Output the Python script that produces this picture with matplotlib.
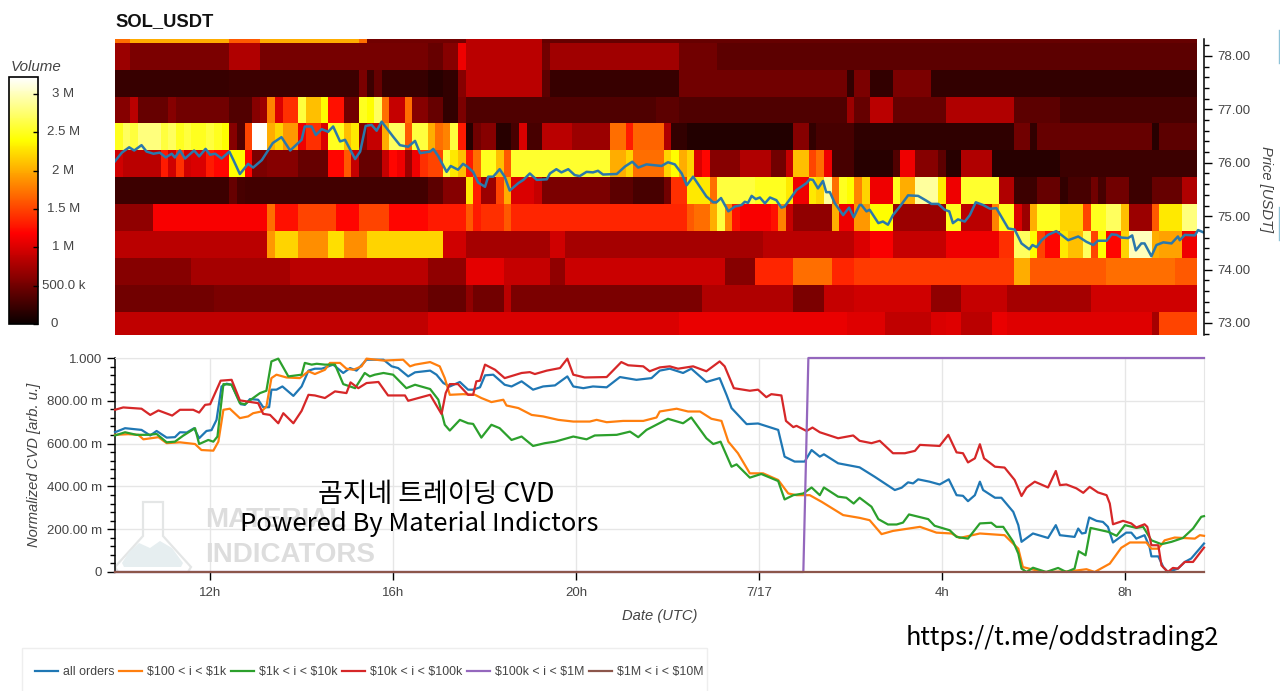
import numpy as np
import matplotlib
matplotlib.use("Agg")
import matplotlib.pyplot as plt
import matplotlib.transforms as mtransforms
from matplotlib.lines import Line2D
from matplotlib.patches import Polygon, Rectangle
from matplotlib.ticker import FixedLocator, MultipleLocator

WIDTH, HEIGHT = 1280, 691
SANS = ["Liberation Sans", "DejaVu Sans"]
plt.rcParams["font.family"] = SANS

TITLE = "SOL_USDT"

# ---- order-book volume per price band, in millions, as (ten-minute bars, volume) runs
band_7825 = [(2,1.7),(13,2.0),(4,1.6),(13,2.0),(1,1.7),(13,.5),(10,.85),(86,.45)]
band_7775 = [(2,.7),(13,.55),(4,.8),(22,.52),(2,.45),(2,.6),(1,1.1),(10,.85),(1,.5),(17,.72),(5,.5),(63,.4)]
band_7724 = [(15,.22),(17,.25),(1,.55),(1,.25),(1,.45),(6,.22),(2,.15),(2,.2),(1,.6),(10,.85),(1,.4),(17,.22),
             (22,.5),(1,.2),(2,.55),(3,.2),(5,.55),(35,.2)]
band_7674 = [(2,.6),(1,.85),(4,.45),(1,.6),(7,.5),(3,.35),(1,.6),(1,.7),(1,1.8),(1,1.0),(2,1.4),(1,2.6),(2,2.1),
             (1,2.4),(2,1.25),(2,.5),(1,2.5),(1,2.4),(1,2.7),(1,1.7),(2,.9),(1,1.7),(2,.6),(2,.45),(2,.2),(1,.55),
             (25,.33),(3,.4),(22,.33),(1,.7),(2,.45),(3,.85),(7,.45),(9,.8),(6,.4),(18,.3)]
band_7624 = [(1,2.5),(1,2.7),(1,2.6),(3,2.8),(1,2.6),(1,2.7),(1,2.5),(1,2.6),(2,2.5),(1,2.6),(1,2.5),(1,2.4),
             (1,.6),(1,.35),(1,1.5),(2,3.2),(1,2.0),(1,2.2),(2,1.9),(1,1.1),(2,1.4),(1,1.0),(2,2.5),(1,2.1),(1,2.3),
             (1,.6),(2,.9),(1,2.0),(2,2.7),(1,1.6),(2,2.6),(1,2.0),(1,1.7),(1,1.8),(1,2.6),(1,1.3),(1,.15),(1,.5),
             (2,.6),(2,.15),(1,.3),(1,1.0),(2,.3),(4,.85),(5,.7),(2,1.7),(1,1.3),(4,1.65),(1,.8),(2,.2),(14,.12),
             (2,.6),(1,.2),(5,.3),(21,.18),(2,.5),(1,.2),(15,.45),(1,.15),(5,.4)]
band_7573 = [(1,.95),(5,.85),(1,1.3),(1,.95),(1,1.4),(1,.95),(2,1.0),(1,1.3),(2,1.2),(2,2.4),(1,1.2),(2,.55),(4,.6),
             (4,.45),(2,1.2),(1,1.6),(1,.9),(3,.45),(1,.9),(1,1.2),(1,1.1),(1,.7),(1,1.1),(1,1.4),(2,1.5),(1,2.6),
             (1,2.3),(1,2.1),(1,1.3),(1,1.7),(2,2.5),(1,2.1),(1,1.6),(13,2.55),(2,2.0),(1,2.2),(4,1.7),(1,2.2),(1,2.4),
             (1,2.0),(1,2.2),(1,1.0),(1,1.2),(4,.6),(4,.8),(2,.5),(1,.9),(2,2.1),(1,1.5),(1,1.7),(1,1.1),(3,.3),(5,.15),
             (1,.35),(2,1.1),(3,.6),(1,.4),(2,.15),(4,.8),(9,.15),(18,.25)]
band_7523 = [(15,.25),(1,.45),(1,.3),(24,.27),(2,.4),(3,.6),(1,2.3),(1,1.3),(2,.7),(1,1.5),(1,2.0),(1,1.0),(2,1.0),
             (1,.9),(9,.55),(3,.4),(4,.3),(1,.5),(2,1.4),(3,2.3),(1,1.7),(5,2.6),(4,2.5),(1,2.3),(2,1.1),(1,2.3),(1,2.2),
             (1,2.9),(1,1.7),(1,2.5),(1,2.4),(1,1.8),(1,2.2),(3,1.1),(1,2.5),(2,2.0),(3,2.9),(1,2.3),(2,1.1),(5,2.55),
             (2,.8),(3,.25),(3,.45),(1,.2),(3,.3),(1,.5),(1,.3),(3,.5),(3,.25),(4,.45),(2,.8)]
band_7472 = [(5,.65),(15,1.15),(1,1.7),(3,1.25),(5,1.5),(3,1.2),(4,1.5),(5,1.2),(5,1.3),(1,1.6),(1,1.3),(3,1.4),(1,1.6),
             (23,1.35),(1,1.6),(2,1.7),(1,2.0),(1,2.6),(1,1.8),(1,1.25),(4,1.15),(1,1.25),(1,1.8),(1,.9),(5,.65),(1,2.0),
             (2,1.1),(2,1.9),(3,2.4),(7,.7),(2,2.5),(4,.85),(1,1.8),(2,2.5),(1,1.0),(1,.7),(1,2.0),(3,2.5),(3,2.2),(1,1.5),
             (2,2.5),(2,2.7),(1,2.1),(3,.7),(1,1.6),(3,2.3),(2,2.8)]
band_7422 = [(20,.85),(1,1.9),(3,2.2),(4,1.85),(2,2.25),(3,1.85),(10,2.2),(3,.95),(11,.75),(2,.95),(26,.75),(12,.85),
             (2,1.0),(3,1.15),(7,.9),(7,1.1),(2,1.4),(2,2.7),(1,2.4),(1,1.5),(2,1.2),(1,2.3),(2,2.1),(1,2.7),(1,1.5),
             (1,2.4),(2,1.2),(1,2.2),(3,3.0),(1,2.0),(3,1.95),(2,1.1)]
band_7372 = [(10,.6),(13,.75),(18,.85),(5,.65),(5,1.05),(6,.9),(2,.65),(21,.92),(4,.6),(5,1.35),(5,1.7),(3,1.35),
             (21,1.45),(2,2.0),(10,1.6),(9,1.7),(3,1.6)]
band_7321 = [(13,.5),(28,.55),(5,.45),(1,.65),(4,.5),(1,.85),(25,.55),(12,.8),(4,.55),(4,.9),(10,.95),(4,.65),(6,.9),
             (11,.75),(14,.95)]
band_7271 = [(41,.87),(33,1.0),(22,1.07),(5,1.03),(6,.88),(2,1.0),(2,1.03),(4,.85),(2,1.07),(4,1.03),(15,1.03),(1,.75),
             (5,1.5)]

band_edges = [72.71, 73.21, 73.72, 74.22, 74.72, 75.23, 75.73, 76.24, 76.74, 77.24, 77.745, 78.25, 78.76]
first_bar_hour = 9.92
bar_hours = 1 / 6

# ---- last traded price: hour (counted from 00:00 on 7/16), USDT
price_hour = [9.92,10.07,10.23,10.34,10.50,10.61,10.76,10.90,11.03,11.16,11.23,11.34,11.45,11.65,11.76,11.90,12.00,
              12.11,12.25,12.42,12.51,12.65,12.83,12.94,13.13,13.37,13.56,13.75,14.00,14.07,14.22,14.31,14.44,14.58,
              14.69,14.84,14.95,15.17,15.28,15.40,15.53,15.64,15.75,16.00,16.15,16.33,16.48,16.59,16.81,
              16.88,16.99,17.17,17.26,17.42,17.53,17.62,17.75,17.86,18.01,18.08,18.19,18.33,18.44,18.55,18.74,18.85,
              18.99,19.14,19.36,19.43,19.57,19.68,19.83,19.97,20.08,20.23,20.37,20.48,20.59,20.89,21.07,21.23,21.36,
              21.54,21.76,21.87,22.01,22.16,22.31,22.42,22.56,22.85,23.00,23.07,23.17,23.33,23.47,23.62,23.69,23.76,
              23.84,23.93,24.02,24.13,24.24,24.38,24.49,24.56,24.82,25.04,25.11,25.18,25.29,25.40,25.47,25.55,25.66,
              25.84,25.97,26.07,26.20,26.24,26.35,26.42,26.61,26.71,26.82,26.93,27.08,27.26,27.48,27.66,27.77,27.92,
              28.06,28.16,28.24,28.35,28.50,28.61,28.74,28.90,29.05,29.19,29.34,29.45,29.59,29.74,29.91,29.98,30.07,
              30.18,30.32,30.50,30.61,30.76,30.98,31.16,31.31,31.41,31.60,31.71,31.82,31.92,32.07,32.16,32.24,32.36,
              32.43,32.58,32.69,32.84,33.02,33.16,33.20,33.31,33.53,33.60,33.71]
price_usdt = [76.03,76.19,76.29,76.23,76.33,76.21,76.17,76.19,76.10,76.17,76.10,76.23,76.08,76.23,76.12,76.26,76.15,
              76.17,76.08,76.21,76.05,75.79,75.98,75.91,76.05,76.37,76.48,76.23,76.43,76.68,76.68,76.52,76.63,76.58,
              76.68,76.40,76.43,76.07,76.21,76.69,76.71,76.60,76.77,76.49,76.33,76.30,76.41,76.18,76.21,
              76.26,76.12,75.83,75.94,75.87,75.98,75.93,75.83,75.63,75.55,75.74,75.74,75.88,75.74,75.48,75.62,75.68,
              75.80,75.68,75.69,75.80,75.88,75.82,75.88,75.77,75.75,75.83,75.82,75.85,75.78,75.79,75.93,76.02,75.91,
              75.97,75.95,75.94,76.01,75.97,75.80,75.58,75.74,75.37,75.26,75.26,75.34,75.09,75.18,75.21,75.27,75.25,
              75.38,75.32,75.35,75.24,75.35,75.30,75.16,75.18,75.49,75.62,75.69,75.68,75.52,75.66,75.45,75.45,75.24,
              75.02,75.16,74.98,75.21,75.21,75.09,75.12,74.87,74.90,74.84,75.02,75.18,75.39,75.38,75.29,75.23,75.23,
              75.12,75.09,74.87,74.94,74.90,75.02,75.26,75.21,75.14,75.15,74.93,74.77,74.75,74.49,74.38,74.46,74.42,
              74.55,74.65,74.72,74.65,74.55,74.62,74.52,74.46,74.54,74.54,74.66,74.65,74.60,74.59,74.64,74.36,74.49,
              74.49,74.25,74.46,74.51,74.49,74.62,74.55,74.65,74.64,74.74,74.70]

# ---- normalized cumulative volume delta by order-size bucket
all_hour = [9.92,10.14,10.50,10.69,10.83,11.05,11.23,11.34,11.49,11.65,11.76,11.92,12.03,12.14,12.25,12.36,12.47,12.67,
            12.76,12.87,13.05,13.16,13.29,13.34,13.45,13.58,13.82,14.00,14.15,14.29,14.44,14.69,14.91,15.06,15.20,15.42,
            15.79,15.97,16.11,16.33,16.48,16.81,16.95,17.10,17.24,17.46,17.64,17.75,17.90,18.01,18.19,18.44,18.59,18.81,
            19.06,19.28,19.54,19.81,19.94,20.16,20.37,20.67,20.96,21.32,21.65,21.83,22.05,22.34,22.52,22.85,23.14,23.29,
            23.40,23.73,23.98,24.42,24.56,24.78,25.00,25.15,25.33,25.42,25.73,26.20,26.53,26.97,27.12,27.26,27.37,27.48,
            27.73,27.95,28.15,28.32,28.46,28.57,28.72,28.83,28.90,29.16,29.30,29.56,29.67,29.74,29.99,30.32,30.49,30.58,
            30.90,30.98,31.06,31.14,31.22,31.38,31.52,31.63,31.74,32.03,32.14,32.25,32.43,32.54,32.58,32.73,32.84,32.94,
            33.16,33.31,33.45,33.73]
all_cvd = [.653,.672,.664,.638,.659,.628,.630,.653,.652,.672,.625,.659,.663,.711,.867,.880,.875,.784,.781,.808,.805,.770,
           .770,.852,.852,.867,.823,.867,.941,.950,.950,.969,.930,.953,.941,.992,.992,.961,.953,.914,.933,.941,.922,.883,
           .867,.888,.852,.852,.863,.919,.922,.875,.867,.891,.852,.867,.872,.914,.867,.859,.867,.863,.911,.898,.906,.941,
           .950,.930,.950,.888,.906,.828,.766,.691,.694,.664,.539,.516,.516,.570,.539,.550,.508,.489,.445,.383,.394,.419,
           .414,.433,.422,.409,.433,.359,.356,.331,.359,.422,.383,.347,.347,.281,.219,.141,.180,.159,.219,.172,.164,.203,
           .180,.183,.255,.239,.234,.211,.138,.184,.184,.156,.172,.117,.073,.073,.023,0,.016,.047,.063,.133]

small_hour = [9.92,10.21,10.43,10.54,10.87,11.05,11.34,11.67,11.81,12.07,12.18,12.29,12.43,12.65,12.83,12.94,13.12,13.23,
              13.34,13.45,13.67,13.96,14.15,14.29,14.51,14.62,14.84,14.98,15.13,15.31,15.42,15.79,16.22,16.37,16.48,16.81,
              17.02,17.13,17.24,17.53,17.79,17.93,18.15,18.41,18.48,18.74,19.03,19.28,19.61,19.94,20.30,20.45,20.67,21.03,
              21.47,21.76,21.83,22.20,22.45,22.71,22.96,23.18,23.33,23.54,23.80,24.09,24.42,24.64,24.82,25.11,25.37,25.84,
              26.20,26.42,26.68,26.93,27.52,27.88,28.21,28.39,28.83,29.37,29.67,29.77,29.96,30.21,30.79,31.16,31.34,31.67,
              31.92,32.11,32.47,32.58,32.73,32.87,33.09,33.53,33.64,33.73]
small_cvd = [.641,.644,.641,.620,.630,.602,.606,.598,.570,.567,.609,.758,.763,.719,.727,.742,.750,.773,.906,.922,.909,.906,
             .938,.925,.945,.977,.977,.950,.945,.961,.997,.988,.992,.961,.969,.981,.961,.906,.828,.831,.828,.813,.794,.805,
             .778,.766,.734,.727,.711,.703,.703,.711,.700,.706,.706,.722,.750,.763,.750,.750,.716,.706,.609,.555,.461,.461,
             .430,.367,.359,.359,.328,.266,.253,.242,.177,.192,.211,.184,.180,.159,.180,.172,.109,.023,.013,0,.003,.013,0,
             .039,.113,.138,.138,.109,.109,.148,.161,.156,.172,.169]

mid_hour = [9.92,10.14,10.39,10.65,10.83,11.05,11.23,11.41,11.67,11.76,11.96,12.07,12.16,12.29,12.47,12.65,12.76,12.94,
            13.09,13.23,13.34,13.49,13.71,14.00,14.07,14.22,14.33,14.51,14.73,14.91,15.17,15.38,15.49,15.60,15.79,16.00,
            16.29,16.48,16.81,16.99,17.13,17.24,17.46,17.64,17.75,17.93,18.15,18.33,18.59,18.81,19.06,19.32,19.54,19.94,
            20.23,20.41,20.89,21.18,21.36,21.54,22.01,22.34,22.52,22.85,23.00,23.16,23.40,23.51,23.80,24.05,24.42,24.56,
            24.75,24.97,25.15,25.33,25.42,25.73,25.91,26.07,26.20,26.46,26.61,26.82,27.01,27.15,27.28,27.70,27.84,28.17,
            28.32,28.57,28.83,29.08,29.19,29.34,29.56,29.67,29.74,29.85,29.99,30.28,30.54,30.72,30.90,30.99,31.14,31.25,
            31.63,31.82,32.00,32.25,32.40,32.58,32.80,33.02,33.27,33.49,33.67,33.73]
mid_cvd = [.638,.653,.641,.641,.645,.606,.609,.637,.672,.598,.617,.609,.633,.878,.875,.789,.784,.813,.836,.847,.984,.997,
           .914,.922,.977,.969,.973,.969,.969,.878,.859,.930,.914,.922,.930,.922,.859,.875,.855,.805,.688,.661,.711,.695,
           .692,.628,.688,.672,.617,.633,.589,.602,.609,.633,.620,.638,.641,.656,.630,.664,.716,.695,.722,.625,.598,.609,
           .492,.503,.441,.458,.425,.339,.359,.367,.395,.359,.395,.352,.347,.320,.347,.305,.247,.222,.222,.231,.269,.247,
           .216,.195,.164,.156,.227,.230,.211,.211,.141,.086,.016,0,.020,0,.019,0,.016,.097,.078,.206,.188,.169,.219,.206,
           .211,.148,.130,.141,.159,.203,.258,.261]

large_hour = [9.92,10.10,10.50,10.69,10.87,11.17,11.34,11.63,11.76,11.89,12.00,12.23,12.47,12.65,13.05,13.16,13.31,13.49,
              13.60,13.82,14.00,14.15,14.29,14.51,14.73,14.98,15.07,15.24,15.42,15.68,15.89,16.26,16.33,16.81,17.06,17.15,
              17.24,17.42,17.64,17.75,17.82,17.90,18.01,18.23,18.44,18.81,18.99,19.10,19.36,19.65,19.81,19.94,20.19,20.67,
              20.99,21.14,21.47,21.61,21.83,22.05,22.23,22.56,22.85,23.14,23.25,23.45,23.80,23.98,24.16,24.27,24.49,24.59,
              24.75,24.82,25.04,25.17,25.33,25.73,26.06,26.20,26.46,26.64,26.93,27.19,27.41,27.52,27.95,28.14,28.32,28.46,
              28.57,28.72,28.83,28.92,29.16,29.37,29.59,29.74,29.85,30.03,30.32,30.49,30.58,30.72,30.94,31.09,31.23,31.41,
              31.60,31.67,31.74,31.96,32.14,32.25,32.43,32.49,32.58,32.73,32.80,32.94,33.05,33.16,33.31,33.49,33.73]
large_cvd = [.758,.769,.763,.734,.755,.731,.758,.758,.745,.781,.784,.894,.898,.802,.789,.739,.734,.695,.742,.695,.753,.828,
             .825,.813,.844,.836,.886,.859,.883,.888,.825,.825,.800,.828,.738,.836,.878,.878,.828,.828,.891,.894,.969,.945,
             .906,.930,.934,.925,.941,.953,.997,.922,.909,.911,.981,.966,.961,.938,.956,.961,.950,.961,.938,.984,.961,.859,
             .847,.852,.817,.831,.825,.706,.677,.683,.659,.675,.653,.625,.638,.613,.602,.613,.555,.555,.566,.594,.589,.641,
             .559,.555,.512,.531,.597,.531,.492,.488,.430,.355,.394,.422,.395,.472,.406,.409,.391,.370,.398,.372,.359,.320,
             .223,.239,.227,.208,.223,.211,.125,.125,.031,0,.019,.016,.047,.047,.114]

whale_hour = [9.92, 24.97, 25.08, 33.73]
whale_cvd = [0, 0, 1.0, 1.0]
mega_hour = [9.92, 33.73]
mega_cvd = [0, 0]

series_labels = ["all orders", r"\$100 < i < \$1k", r"\$1k < i < \$10k", r"\$10k < i < \$100k",
                 r"\$100k < i < \$1M", r"\$1M < i < \$10M"]
series_colors = ["#1f77b4", "#ff7f0e", "#2ca02c", "#d62728", "#9467bd", "#8c564b"]

price_ticks = [73, 74, 75, 76, 77, 78]
volume_ticks = [0, 0.5, 1, 1.5, 2, 2.5, 3]
volume_tick_labels = ["0", "500.0 k", "1 M", "1.5 M", "2 M", "2.5 M", "3 M"]
cvd_ticks = [0, .2, .4, .6, .8, 1.0]
cvd_tick_labels = ["0", "200.00 m", "400.00 m", "600.00 m", "800.00 m", "1.000"]
hour_ticks = [12, 16, 20, 24, 28, 32]
hour_tick_labels = ["12h", "16h", "20h", "7/17", "4h", "8h"]

TICK_GRAY = "#444444"
LABEL_GRAY = "#444444"
TICK_SIZE = 9.5
AXIS_LABEL_SIZE = 10.6


def expand(runs):
    """Turn (bar count, volume) runs into one value per bar."""
    return np.concatenate([np.full(n, v, dtype=float) for n, v in runs])


def axes_from_pixels(fig, left, top, right, bottom):
    return fig.add_axes([left / WIDTH, 1 - bottom / HEIGHT, (right - left) / WIDTH, (bottom - top) / HEIGHT])


fig = plt.figure(figsize=(WIDTH / 100, HEIGHT / 100), dpi=100, facecolor="white")
page = mtransforms.Affine2D().scale(1 / WIDTH, -1 / HEIGHT).translate(0, 1) + fig.transFigure

# ---- heat map with the price line on top
ax_heat = axes_from_pixels(fig, 115, 39, 1204, 335)
bands = [band_7271, band_7321, band_7372, band_7422, band_7472, band_7523, band_7573,
         band_7624, band_7674, band_7724, band_7775, band_7825]
volume = np.array([expand(b) for b in bands])
bar_edges = first_bar_hour + np.arange(volume.shape[1] + 1) * bar_hours
mesh = ax_heat.pcolormesh(bar_edges, band_edges, volume, cmap="hot", vmin=0, vmax=3.22,
                          shading="flat", antialiased=False, rasterized=True)
ax_heat.plot(price_hour, price_usdt, color="#2a78ab", lw=1.8, solid_joinstyle="round")
ax_heat.set_xlim(9.92, 33.73)
ax_heat.set_ylim(72.775, 78.318)
ax_heat.set_xticks([])
for side in ["left", "top", "bottom"]:
    ax_heat.spines[side].set_visible(False)
ax_heat.spines["right"].set_linewidth(1.1)
ax_heat.yaxis.tick_right()
ax_heat.yaxis.set_major_locator(FixedLocator(price_ticks))
ax_heat.yaxis.set_minor_locator(MultipleLocator(0.2))
ax_heat.set_yticklabels([f"{p:.2f}" for p in price_ticks])
ax_heat.tick_params(axis="y", which="major", length=5.8, width=1, pad=4, labelsize=TICK_SIZE, labelcolor=TICK_GRAY)
ax_heat.tick_params(axis="y", which="minor", length=3.5, width=1)
fig.text(1266 / WIDTH, 1 - 189 / HEIGHT, "Price [USDT]", rotation=270, style="italic", fontsize=AXIS_LABEL_SIZE,
         color=LABEL_GRAY, ha="center", va="center")
fig.text(115 / WIDTH, 1 - 22 / HEIGHT, TITLE, fontsize=13.2, fontweight="bold", color="#111111", ha="left", va="center")

# ---- volume colour bar
cax = axes_from_pixels(fig, 9, 77, 38, 324)
cbar = fig.colorbar(mesh, cax=cax)
cbar.outline.set_edgecolor("black")
cbar.outline.set_linewidth(1.2)
cax.yaxis.set_major_locator(FixedLocator(volume_ticks))
cax.minorticks_off()
cax.tick_params(axis="y", direction="in", length=3.6, width=1, color="black", labelright=False)
label_x = mtransforms.blended_transform_factory(page, cax.transData)
for tick, text in zip(volume_ticks, volume_tick_labels):
    cax.text(54.5 if text == "0" else 63.5, tick, text, transform=label_x, ha="center", va="center",
             fontsize=TICK_SIZE, color=TICK_GRAY, clip_on=False)
fig.text(11 / WIDTH, 1 - 67 / HEIGHT, "Volume", style="italic", fontsize=10.9, color=LABEL_GRAY, ha="left", va="center")

# ---- normalized CVD lines
ax_cvd = axes_from_pixels(fig, 115, 358, 1204, 572)
hours = [all_hour, small_hour, mid_hour, large_hour, whale_hour, mega_hour]
cvds = [all_cvd, small_cvd, mid_cvd, large_cvd, whale_cvd, mega_cvd]
handles = []
for h, v, color, label in zip(hours, cvds, series_colors, series_labels):
    handles += ax_cvd.plot(h, v, color=color, lw=1.6, label=label, clip_on=False, zorder=3)
ax_cvd.set_xlim(9.92, 33.73)
ax_cvd.set_ylim(0, 1)
ax_cvd.set_xticks(hour_ticks, hour_tick_labels)
ax_cvd.set_yticks(cvd_ticks, cvd_tick_labels)
ax_cvd.yaxis.set_minor_locator(MultipleLocator(0.04))
ax_cvd.grid(True, which="major", color="#e6e6e6", lw=1)
ax_cvd.set_axisbelow(True)
for side in ["top", "right"]:
    ax_cvd.spines[side].set_color("#e6e6e6")
for side in ["left", "bottom"]:
    ax_cvd.spines[side].set_linewidth(1.1)
ax_cvd.tick_params(axis="both", which="major", length=6, width=1, labelsize=TICK_SIZE, labelcolor=TICK_GRAY)
ax_cvd.tick_params(axis="x", pad=5)
ax_cvd.tick_params(axis="y", which="minor", length=3.5, width=1)
fig.text(34 / WIDTH, 1 - 465 / HEIGHT, "Normalized CVD [arb. u.]", rotation=90, style="italic", fontsize=AXIS_LABEL_SIZE,
         color=LABEL_GRAY, ha="center", va="center")
fig.text(660 / WIDTH, 1 - 616 / HEIGHT, "Date (UTC)", style="italic", fontsize=AXIS_LABEL_SIZE, color=LABEL_GRAY,
         ha="center", va="center")

# ---- faint flask and wordmark behind the lines
flask = [(143, 502), (163, 502), (163, 536), (191, 567), (188, 572), (118, 572), (115, 567), (143, 536)]
liquid = [(129, 552), (139, 543), (150, 548), (160, 541), (172, 548), (183, 563), (181, 567), (124, 567), (122, 563)]
ax_cvd.add_patch(Polygon(flask, closed=True, fill=False, ec="#e4e6e6", lw=1.6, transform=page, clip_on=False, zorder=1))
ax_cvd.add_patch(Polygon(liquid, closed=True, fc="#e6eef0", ec="none", transform=page, clip_on=False, zorder=1))
ax_cvd.text(205, 520, "MATERIAL", transform=page, fontweight="bold", fontsize=20,
            color="#dddddd", ha="left", va="center", zorder=1)
ax_cvd.text(205, 555, "INDICATORS", transform=page, fontweight="bold", fontsize=20,
            color="#dddddd", ha="left", va="center", zorder=1)

# ---- channel captions
overlay_font = ["Noto Sans CJK KR", "DejaVu Sans"]
fig.text(436.5 / WIDTH, 1 - 494 / HEIGHT, "곰지네 트레이딩 CVD", family=overlay_font, fontsize=19.4, fontweight=500,
         color="black", ha="center", va="center")
fig.text(419 / WIDTH, 1 - 524 / HEIGHT, "Powered By Material Indictors", family=overlay_font, fontsize=18.4, fontweight=500,
         color="black", ha="center", va="center")
fig.text(1062.5 / WIDTH, 1 - 638 / HEIGHT, "https://t.me/oddstrading2", family=overlay_font, fontsize=18.3, fontweight=500,
         color="black", ha="center", va="center")

# ---- legend strip along the bottom edge, its frame running off the page
fig.add_artist(Rectangle((22, 648), 685, 60, transform=page, fc="white", ec="#eeeeee", lw=1))
legend = fig.legend(handles=handles, loc="center left", bbox_to_anchor=(23 / WIDTH, 1 - 672 / HEIGHT), ncols=6,
                    fontsize=8.9, labelcolor=TICK_GRAY, handlelength=1.85, handletextpad=0.42, columnspacing=0.38,
                    borderpad=0.95, frameon=False, borderaxespad=0)

# ---- sliver of the neighbouring panel on the right edge
for top, bottom in [(30, 63), (207, 240)]:
    fig.add_artist(Line2D([1279, 1279], [top, bottom], transform=page, color="#8fc3d8", lw=1))

fig.savefig("out.png", dpi=100)
